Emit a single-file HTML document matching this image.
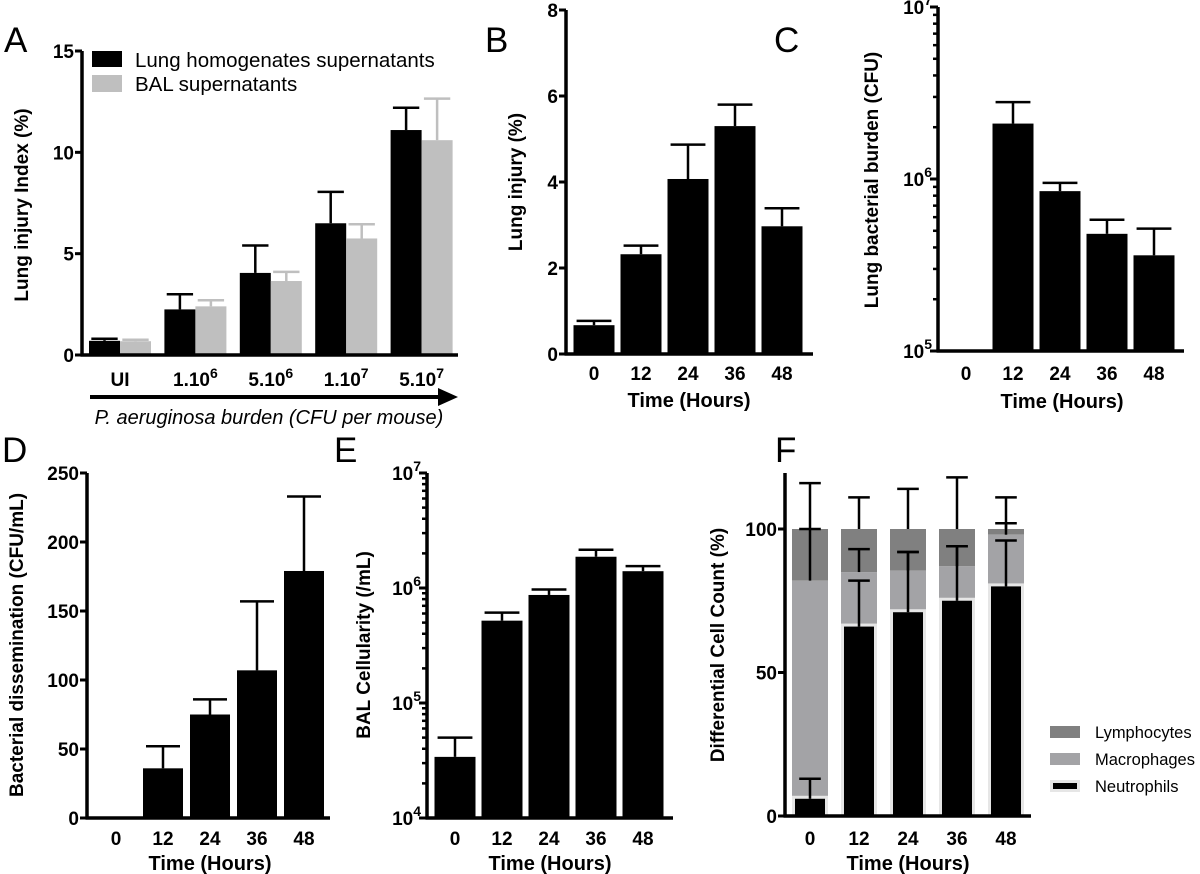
<!DOCTYPE html>
<html><head><meta charset="utf-8"><style>
html,body{margin:0;padding:0;background:#fff;}
svg{display:block;font-family:"Liberation Sans",Arial,sans-serif;}
</style></head><body>
<svg id="fig" width="1200" height="874" viewBox="0 0 1200 874" xmlns="http://www.w3.org/2000/svg"></svg>
<script>
// ---- Panel A data ----
const aCategories = ["UI","1.10^6","5.10^6","1.10^7","5.10^7"];
const aLungValues = [0.7, 2.25, 4.05, 6.5, 11.1];
const aLungErr = [0.1, 0.75, 1.35, 1.55, 1.1];
const aBalValues = [0.68, 2.4, 3.65, 5.75, 10.6];
const aBalErr = [0.07, 0.3, 0.45, 0.7, 2.05];
const aTicks = [0,5,10,15];
// ---- Panel B data ----
const timeCats = ["0","12","24","36","48"];
const bValues = [0.67, 2.32, 4.07, 5.3, 2.97];
const bErr = [0.1, 0.2, 0.8, 0.5, 0.42];
const bTicks = [0,2,4,6,8];
// ---- Panel C data (log) ----
const cValues = [null, 2.1e6, 8.5e5, 4.8e5, 3.6e5];
const cErrTop = [null, 2.8e6, 9.5e5, 5.8e5, 5.15e5];
const cDecades = [5,6,7];
// ---- Panel D data ----
const dValues = [0, 36, 75, 107, 179];
const dErr = [0, 16, 11, 50, 54];
const dTicks = [0,50,100,150,200,250];
// ---- Panel E data (log) ----
const eValues = [3.4e4, 5.2e5, 8.7e5, 1.87e6, 1.4e6];
const eErrTop = [5.0e4, 6.1e5, 9.7e5, 2.15e6, 1.55e6];
const eDecades = [4,5,6,7];
// ---- Panel F data (stacked %) ----
const fNeutro = [6, 66, 71, 75, 80];
const fMacro = [76, 19, 14.5, 12, 18];
const fLymph = [18, 15, 14.5, 13, 2];
const fNeutroErr = [7, 16, 21, 19, 16];
const fMacroErr = [18, 8, 6.5, 7, 4];
const fLymphErr = [16, 11, 14, 18, 11];
const fTicks = [0,50,100];
const fLegend = ["Lymphocytes","Macrophages","Neutrophils"];

const NS="http://www.w3.org/2000/svg";
const svg=document.getElementById('fig');
function el(tag,attrs,parent){const e=document.createElementNS(NS,tag);for(const k in attrs)e.setAttribute(k,attrs[k]);(parent||svg).appendChild(e);return e;}
function txt(s,attrs,parent){const t=el('text',attrs,parent);t.textContent=s;return t;}
function group(name){const g=el('g',{});return g;}
const TF={'font-size':'19','font-weight':'bold','fill':'#000'};
function supLabel(s,x,y,g){
  const t=el('text',Object.assign({x:x,y:y,'text-anchor':'middle'},TF),g);
  const p=s.split('^');
  const a=el('tspan',{},t);a.textContent=p[0];
  if(p[1]){const b=el('tspan',{dy:'-8','font-size':'14'},t);b.textContent=p[1];}
  return t;
}
function letter(s,x,y){const t=txt(s,{x:x,y:y,'font-size':'35',fill:'#000'});}
function vtitle(s,x,y,g){const t=txt(s,Object.assign({x:0,y:0,'text-anchor':'middle',transform:'translate('+x+','+y+') rotate(-90)'},TF),g);}
function errBar(x,y1,y2,cw,g,color){
  el('line',{x1:x,y1:y1,x2:x,y2:y2,stroke:color||'#000','stroke-width':2.5},g);
  el('line',{x1:x-cw/2,y1:y2,x2:x+cw/2,y2:y2,stroke:color||'#000','stroke-width':2.5},g);
}
function axes(g,x0,y0,yTop,xEnd){
  el('line',{x1:x0,y1:yTop,x2:x0,y2:y0+1.5,stroke:'#000','stroke-width':3.5},g);
  el('line',{x1:x0-1.5,y1:y0,x2:xEnd,y2:y0,stroke:'#000','stroke-width':3.5},g);
}
function linTicks(g,x0,ticks,ys){
  ticks.forEach(v=>{const y=ys(v);el('line',{x1:x0-7,y1:y,x2:x0,y2:y,stroke:'#000','stroke-width':3},g);
    txt(String(v),Object.assign({x:x0-8,y:y+7,'text-anchor':'end'},TF),g);});
}
function logTicks(g,x0,decades,ys){
  decades.forEach((d,i)=>{const y=ys(Math.pow(10,d));
    el('line',{x1:x0-8,y1:y,x2:x0,y2:y,stroke:'#000','stroke-width':3},g);
    const t=el('text',Object.assign({x:x0-6,y:y+7,'text-anchor':'end'},TF),g);
    const a=el('tspan',{},t);a.textContent='10';const b=el('tspan',{dy:'-9','font-size':'14'},t);b.textContent=String(d);
    if(i<decades.length-1){for(let m=2;m<=9;m++){const yy=ys(m*Math.pow(10,d));el('line',{x1:x0-5,y1:yy,x2:x0,y2:yy,stroke:'#000','stroke-width':2.5},g);}}
  });
}
function xLabels(g,cats,xs,y){cats.forEach((c,i)=>txt(c,Object.assign({x:xs(i),y:y,'text-anchor':'middle'},TF),g));}
function xTitle(g,x,y){const t=txt('Time (Hours)',{x:x,y:y,'text-anchor':'middle','font-size':'20','font-weight':'bold',fill:'#000'},g);}

// ========== Panel A ==========
(function(){
  const g=group('panel-a-chart');
  const x0=82,y0=355,yTop=51,xEnd=458;
  const ys=v=>y0-(v/15)*(y0-yTop);
  const gc=i=>120+i*75.4;
  const bw=31;
  aCategories.forEach((c,i)=>{
    const xb=gc(i)-bw, xg=gc(i);
    errBar(xb+bw/2,ys(aLungValues[i]),ys(aLungValues[i]+aLungErr[i]),bw*0.85,g,'#000');
    errBar(xg+bw/2,ys(aBalValues[i]),ys(aBalValues[i]+aBalErr[i]),bw*0.85,g,'#bfbfbf');
    const r1=el('rect',{x:xb,y:ys(aLungValues[i]),width:bw,height:y0-ys(aLungValues[i]),fill:'#000'},g);
    
    
    const r2=el('rect',{x:xg,y:ys(aBalValues[i]),width:bw,height:y0-ys(aBalValues[i]),fill:'#bfbfbf'},g);
    
    
    supLabel(c,gc(i),386,g);
  });
  axes(g,x0,y0,yTop,xEnd);
  linTicks(g,x0,aTicks,ys);
  vtitle('Lung injury Index (%)',28,205,g);
  el('line',{x1:90,y1:397,x2:440,y2:397,stroke:'#000','stroke-width':4},g);
  el('polygon',{points:'438,388 458,397 438,406',fill:'#000'},g);
  const it=txt('P. aeruginosa burden (CFU per mouse)',{x:269,y:424,'text-anchor':'middle','font-size':'20','font-style':'italic',fill:'#000'},g);
  
  
  const lg=group('legend');
  el('rect',{x:92,y:51,width:30,height:16,fill:'#000'},lg);
  txt('Lung homogenates supernatants',{x:135,y:67,'font-size':'20.5',fill:'#000'},lg);
  el('rect',{x:92,y:75,width:30,height:17,fill:'#bfbfbf'},lg);
  txt('BAL supernatants',{x:135,y:91,'font-size':'20.5',fill:'#000'},lg);
})();
letter('A',4,52);

// ========== Panel B ==========
(function(){
  const g=group('panel-b-chart');
  const x0=566,y0=354,yTop=10,xEnd=813;
  const ys=v=>y0-(v/8)*(y0-yTop);
  const xs=i=>594+i*47;const bw=41;
  bValues.forEach((v,i)=>{
    errBar(xs(i),ys(v),ys(v+bErr[i]),bw*0.85,g);
    const r=el('rect',{x:xs(i)-bw/2,y:ys(v),width:bw,height:y0-ys(v),fill:'#000'},g);
    
    
  });
  axes(g,x0,y0,yTop,xEnd);
  linTicks(g,x0,bTicks,ys);
  xLabels(g,timeCats,xs,380);xTitle(g,689,407);
  vtitle('Lung injury (%)',522,182,g);
})();
letter('B',485,52);

// ========== Panel C ==========
(function(){
  const g=group('panel-c-chart');
  const x0=938,y0=351,yTop=7,xEnd=1184;
  const ys=v=>y0-(Math.log10(v)-5)/2*(y0-yTop);
  const xs=i=>966+i*47;const bw=41;
  cValues.forEach((v,i)=>{
    if(v==null)return;
    errBar(xs(i),ys(v),ys(cErrTop[i]),bw*0.85,g);
    const r=el('rect',{x:xs(i)-bw/2,y:ys(v),width:bw,height:y0-ys(v),fill:'#000'},g);
    
    
  });
  axes(g,x0,y0,yTop,xEnd);
  logTicks(g,x0,cDecades,ys);
  xLabels(g,timeCats,xs,380);xTitle(g,1062,408);
  vtitle('Lung bacterial burden (CFU)',878,180,g);
})();
letter('C',774,52);

// ========== Panel D ==========
(function(){
  const g=group('panel-d-chart');
  const x0=87,y0=818,yTop=473,xEnd=330;
  const ys=v=>y0-(v/250)*(y0-yTop);
  const xs=i=>116+i*47;const bw=40;
  dValues.forEach((v,i)=>{
    if(v<=0)return;
    errBar(xs(i),ys(v),ys(v+dErr[i]),bw*0.85,g);
    const r=el('rect',{x:xs(i)-bw/2,y:ys(v),width:bw,height:y0-ys(v),fill:'#000'},g);
    
    
  });
  axes(g,x0,y0,yTop,xEnd);
  linTicks(g,x0,dTicks,ys);
  xLabels(g,timeCats,xs,845);xTitle(g,210,870);
  vtitle('Bacterial dissemination (CFU/mL)',23,645,g);
})();
letter('D',2,462);

// ========== Panel E ==========
(function(){
  const g=group('panel-e-chart');
  const x0=427,y0=818,yTop=473,xEnd=673;
  const ys=v=>y0-(Math.log10(v)-4)/3*(y0-yTop);
  const xs=i=>455+i*47;const bw=41;
  eValues.forEach((v,i)=>{
    errBar(xs(i),ys(v),ys(eErrTop[i]),bw*0.85,g);
    const r=el('rect',{x:xs(i)-bw/2,y:ys(v),width:bw,height:y0-ys(v),fill:'#000'},g);
    
    
  });
  axes(g,x0,y0,yTop,xEnd);
  logTicks(g,x0,eDecades,ys);
  xLabels(g,timeCats,xs,845);xTitle(g,550,870);
  vtitle('BAL Cellularity (/mL)',370,645,g);
})();
letter('E',334,462);

// ========== Panel F ==========
(function(){
  const g=group('panel-f-chart');
  const x0=785,y0=816,yTop=473,xEnd=1031;
  const ys=v=>y0-(v/100)*(y0-529);
  const xs=i=>810+i*49;const bw=36;
  fNeutro.forEach((n,i)=>{
    const m=fMacro[i], l=fLymph[i];
    const rl=el('rect',{x:xs(i)-bw/2,y:ys(n+m+l),width:bw,height:ys(n+m)-ys(n+m+l),fill:'#808080'},g);
    
    
    const rm=el('rect',{x:xs(i)-bw/2,y:ys(n+m),width:bw,height:ys(n)-ys(n+m),fill:'#a3a3a6'},g);
    
    
    el('rect',{x:xs(i)-bw/2,y:ys(n)-3,width:bw,height:y0-ys(n)+3,fill:'#e6e6e6'},g);
    const rn=el('rect',{x:xs(i)-bw/2+3,y:ys(n),width:bw-6,height:y0-ys(n),fill:'#000'},g);
    
    
    errBar(xs(i),ys(n),ys(n+fNeutroErr[i]),bw*0.6,g);
    errBar(xs(i),ys(n+m),ys(n+m+fMacroErr[i]),bw*0.6,g);
    errBar(xs(i),ys(n+m+l),ys(n+m+l+fLymphErr[i]),bw*0.6,g);
  });
  axes(g,x0,y0,yTop,xEnd);
  linTicks(g,x0,fTicks,ys);
  xLabels(g,timeCats,xs,845);xTitle(g,908,870);
  vtitle('Differential Cell Count (%)',724,645,g);
  const lg=group('legend');
  const cols=['#808080','#a3a3a6','#000'];
  fLegend.forEach((s,i)=>{
    const y=726+i*27;
    if(i==2){el('rect',{x:1050,y:y,width:30,height:12,fill:'#e6e6e6'},lg);el('rect',{x:1053,y:y+3,width:24,height:6,fill:'#000'},lg);}
    else el('rect',{x:1050,y:y,width:30,height:12,fill:cols[i]},lg);
    txt(s,{x:1095,y:y+12,'font-size':'16.5',fill:'#000'},lg);
  });
})();
letter('F',775,462);
</script>
</body></html>
